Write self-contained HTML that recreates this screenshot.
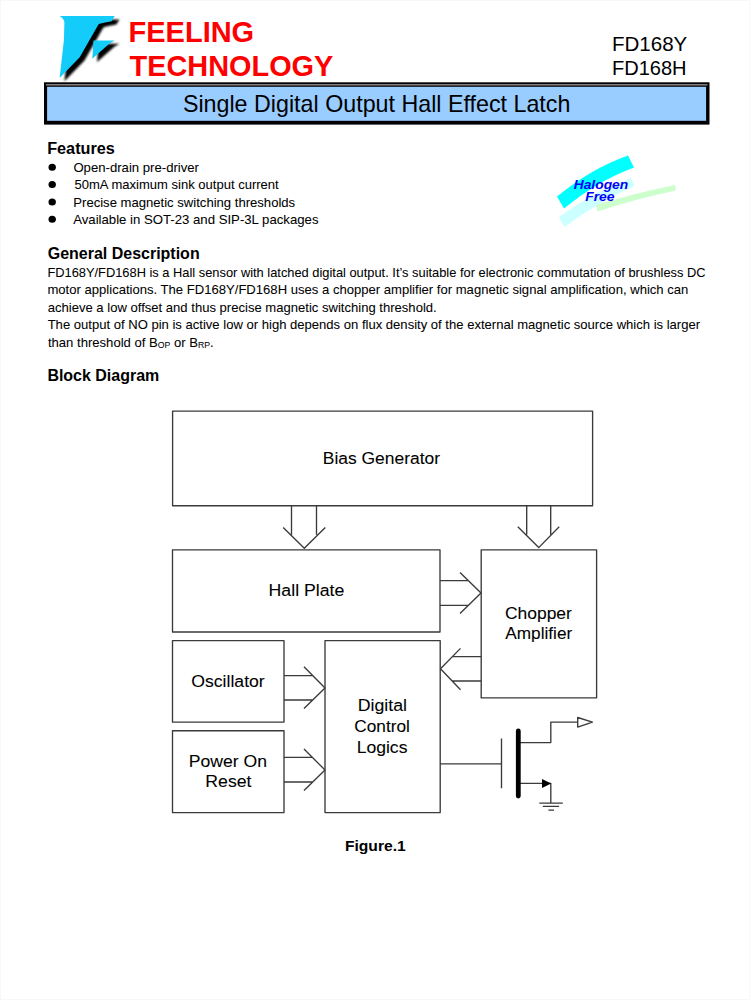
<!DOCTYPE html>
<html lang="en">
<head>
<meta charset="utf-8">
<title>FD168Y / FD168H - Single Digital Output Hall Effect Latch</title>
<style>
html,body{margin:0;padding:0;background:#fff;}
body{width:750px;height:1000px;overflow:hidden;position:relative;}
svg{position:absolute;left:0;top:0;display:block;}
text{font-family:"Liberation Sans",Arial,Helvetica,sans-serif;fill:#000;}
.b{font-weight:bold;}
.body{font-size:13px;stroke:#000;stroke-width:0.06px;}
.h{font-size:16px;font-weight:bold;}
.blk{font-size:17.1px;stroke:#000;stroke-width:0.08px;}
.ln{stroke:#3a3a3a;stroke-width:1.35;fill:none;stroke-linejoin:round;}
</style>
</head>
<body>
<svg width="750" height="1000" viewBox="0 0 750 1000">
<defs>
<filter id="sh" x="-20%" y="-20%" width="150%" height="150%"><feGaussianBlur stdDeviation="0.9"/></filter>
</defs>

<rect x="0.5" y="0.5" width="749" height="999" fill="none" stroke="#f8f8f8" stroke-width="1"/>

<!-- ===== LOGO ===== -->
<g id="logo">
  <g transform="translate(4.8,3.3)" fill="#000" filter="url(#sh)">
    <path d="M59.7 16.1 L114.7 16.1 L111.5 21.2 Q104.5 22.4 99.6 23.8 Q98.6 24.2 98 25.2 L79.7 57.3 L59.6 78 L63.9 40 L64.4 22.1 Q64 19 59.7 16.1 Z"/>
    <path d="M93.5 40.5 L114.7 40.5 L109.5 43.4 L92.3 58.7 Z"/>
  </g>
  <g fill="#14ccfa">
    <path d="M59.7 16.1 L114.7 16.1 L111.5 21.2 Q104.5 22.4 99.6 23.8 Q98.6 24.2 98 25.2 L79.7 57.3 L59.6 78 L63.9 40 L64.4 22.1 Q64 19 59.7 16.1 Z"/>
    <path d="M93.5 40.5 L114.7 40.5 L109.5 43.4 L92.3 58.7 Z"/>
  </g>
</g>

<!-- ===== HEADER TEXT ===== -->
<text class="b" x="128.60" y="42" font-size="29.3" style="fill:#ff0000" textLength="125.55" lengthAdjust="spacingAndGlyphs">FEELING</text>
<text class="b" x="129.60" y="76" font-size="29.3" style="fill:#ff0000" textLength="203.75" lengthAdjust="spacingAndGlyphs">TECHNOLOGY</text>
<text x="611.90" y="50.9" font-size="20.5" textLength="75.41" lengthAdjust="spacingAndGlyphs">FD168Y</text>
<text x="611.90" y="75.2" font-size="20.5" textLength="74.72" lengthAdjust="spacingAndGlyphs">FD168H</text>

<!-- ===== BANNER ===== -->
<rect x="44" y="82.3" width="665.5" height="42.3" fill="#000"/>
<rect x="47.1" y="86.8" width="659" height="34" fill="#99ccff"/>
<rect x="46" y="84.3" width="661.5" height="1.1" fill="#b4b4b4"/>
<text x="182.90" y="111.8" font-size="23.4" textLength="387.52" lengthAdjust="spacingAndGlyphs">Single Digital Output Hall Effect Latch</text>

<!-- ===== FEATURES ===== -->
<text class="h" x="47.20" y="154" textLength="67.60" lengthAdjust="spacingAndGlyphs">Features</text>
<text class="body" x="73.40" y="172.1" textLength="125.60" lengthAdjust="spacingAndGlyphs">Open-drain pre-driver</text>
<text class="body" x="74.50" y="189.3" textLength="204.24" lengthAdjust="spacingAndGlyphs">50mA maximum sink output current</text>
<text class="body" x="73.30" y="206.8" textLength="221.85" lengthAdjust="spacingAndGlyphs">Precise magnetic switching thresholds</text>
<ellipse cx="52.2" cy="167.2" rx="3.7" ry="3.5"/>
<ellipse cx="52.2" cy="184.4" rx="3.7" ry="3.5"/>
<ellipse cx="52.2" cy="202.1" rx="3.7" ry="3.5"/>
<ellipse cx="52.2" cy="219.3" rx="3.7" ry="3.5"/>
<text class="body" x="73.20" y="224.3" textLength="245.30" lengthAdjust="spacingAndGlyphs">Available in SOT-23 and SIP-3L packages</text>

<!-- ===== HALOGEN FREE ===== -->
<g id="halogen">
  <path d="M559 217 Q593 192 631 178 L634.4 186 Q598 202 564.4 227 Z" fill="#ccffff"/>
  <path d="M596 205 Q635 193 675 185 L676 190.6 Q636 199 597.6 211.4 Z" fill="#ccffcc"/>
  <path d="M557 196.6 Q590 169 628 155.4 L634 167.4 Q597 181 564 208.6 Z" fill="#00ffff"/>
  <text class="b" x="573.65" y="189.2" font-size="13.3" font-style="italic" style="fill:#0000fa" textLength="54.61" lengthAdjust="spacingAndGlyphs">Halogen</text>
  <text class="b" x="585.15" y="201.3" font-size="13.3" font-style="italic" style="fill:#0000fa" textLength="29.35" lengthAdjust="spacingAndGlyphs">Free</text>
</g>

<!-- ===== GENERAL DESCRIPTION ===== -->
<text class="h" x="47.70" y="259.2" textLength="151.97" lengthAdjust="spacingAndGlyphs">General Description</text>
<text class="body" x="47.40" y="276.8" textLength="658.20" lengthAdjust="spacingAndGlyphs">FD168Y/FD168H is a Hall sensor with latched digital output. It’s suitable for electronic commutation of brushless DC</text>
<text class="body" x="47.45" y="294.2" textLength="640.91" lengthAdjust="spacingAndGlyphs">motor applications. The FD168Y/FD168H uses a chopper amplifier for magnetic signal amplification, which can</text>
<text class="body" x="47.70" y="311.9" textLength="389.01" lengthAdjust="spacingAndGlyphs">achieve a low offset and thus precise magnetic switching threshold.</text>
<text class="body" x="47.65" y="329.3" textLength="652.45" lengthAdjust="spacingAndGlyphs">The output of NO pin is active low or high depends on flux density of the external magnetic source which is larger</text>
<text class="body" x="47.90" y="346.7" textLength="165.75" lengthAdjust="spacingAndGlyphs">than threshold of B<tspan font-size="8.6" dy="1">OP</tspan><tspan dy="-1"> or B</tspan><tspan font-size="8.6" dy="1">RP</tspan><tspan dy="-1">.</tspan></text>

<!-- ===== BLOCK DIAGRAM ===== -->
<text class="h" x="47.40" y="380.5" textLength="111.87" lengthAdjust="spacingAndGlyphs">Block Diagram</text>

<g class="ln">
  <!-- boxes -->
  <rect x="172.6" y="411.1" width="420" height="94.6"/>
  <rect x="172.5" y="549.9" width="267.5" height="82.1"/>
  <rect x="481.2" y="549.9" width="115.4" height="148"/>
  <rect x="172.5" y="640.6" width="111.5" height="81.5"/>
  <rect x="172.5" y="730.7" width="111.5" height="81.9"/>
  <rect x="325" y="640.6" width="115.2" height="172"/>
  <!-- down arrows -->
  <path d="M291.5 505.7 V534.8 M316.5 505.7 V534.8 M283.2 527.5 L304.3 548.3 L325.3 527.5"/>
  <path d="M526.7 505.7 V534.6 M550.7 505.7 V534.6 M517.8 526.8 L538.7 547.6 L559.2 526.8"/>
  <!-- hall -> chopper -->
  <path d="M440 580.6 H468.5 M440 605.4 H468.5 M460 572.4 L481 593.1 L460 613.5"/>
  <!-- chopper -> digital -->
  <path d="M481.2 656.6 H452.5 M481.2 681 H452.5 M460.5 648.4 L440.5 668.8 L460.5 689.7"/>
  <!-- osc -> digital -->
  <path d="M284 675.6 H312.5 M284 700 H312.5 M304 666.7 L325 687.9 L304 708.6"/>
  <!-- por -> digital -->
  <path d="M284 757.3 H312.5 M284 782 H312.5 M304 749.1 L325 770 L304 790.5"/>
  <!-- output / transistor -->
  <path d="M440.2 763.8 H501.5 M501.5 738.6 V788.2"/>
  <path d="M520 742.6 H550.8 V722.1 H577.7"/>
  <path d="M577.7 717.5 V727.1 L592.4 722.1 Z"/>
  <path d="M520 783.4 H550.8 V803.1 M539.3 803.1 H562.8 M542.8 806.4 H559.1 M548.4 810.1 H554"/>
</g>
<path d="M518.3 731 V796" stroke="#000" stroke-width="4.8" stroke-linecap="round" fill="none"/>
<path d="M542 778.9 L551.2 783.4 L542 787.9 Z" fill="#000"/>

<!-- block labels -->
<text class="blk" x="322.80" y="464" textLength="117.25" lengthAdjust="spacingAndGlyphs">Bias Generator</text>
<text class="blk" x="268.60" y="596" textLength="75.76" lengthAdjust="spacingAndGlyphs">Hall Plate</text>
<text class="blk" x="504.95" y="618.7" textLength="66.95" lengthAdjust="spacingAndGlyphs">Chopper</text>
<text class="blk" x="505.30" y="639.2" textLength="66.95" lengthAdjust="spacingAndGlyphs">Amplifier</text>
<text class="blk" x="191.25" y="686.7" textLength="73.51" lengthAdjust="spacingAndGlyphs">Oscillator</text>
<text class="blk" x="188.80" y="766.7" textLength="78.26" lengthAdjust="spacingAndGlyphs">Power On</text>
<text class="blk" x="205.30" y="787.2" textLength="46.16" lengthAdjust="spacingAndGlyphs">Reset</text>
<text class="blk" x="357.65" y="710.8" textLength="49.32" lengthAdjust="spacingAndGlyphs">Digital</text>
<text class="blk" x="354.25" y="732.1" textLength="55.60" lengthAdjust="spacingAndGlyphs">Control</text>
<text class="blk" x="356.65" y="753.2" textLength="50.80" lengthAdjust="spacingAndGlyphs">Logics</text>

<text class="b" x="344.90" y="850.9" font-size="15.1" textLength="60.84" lengthAdjust="spacingAndGlyphs">Figure.1</text>
</svg>
</body>
</html>
